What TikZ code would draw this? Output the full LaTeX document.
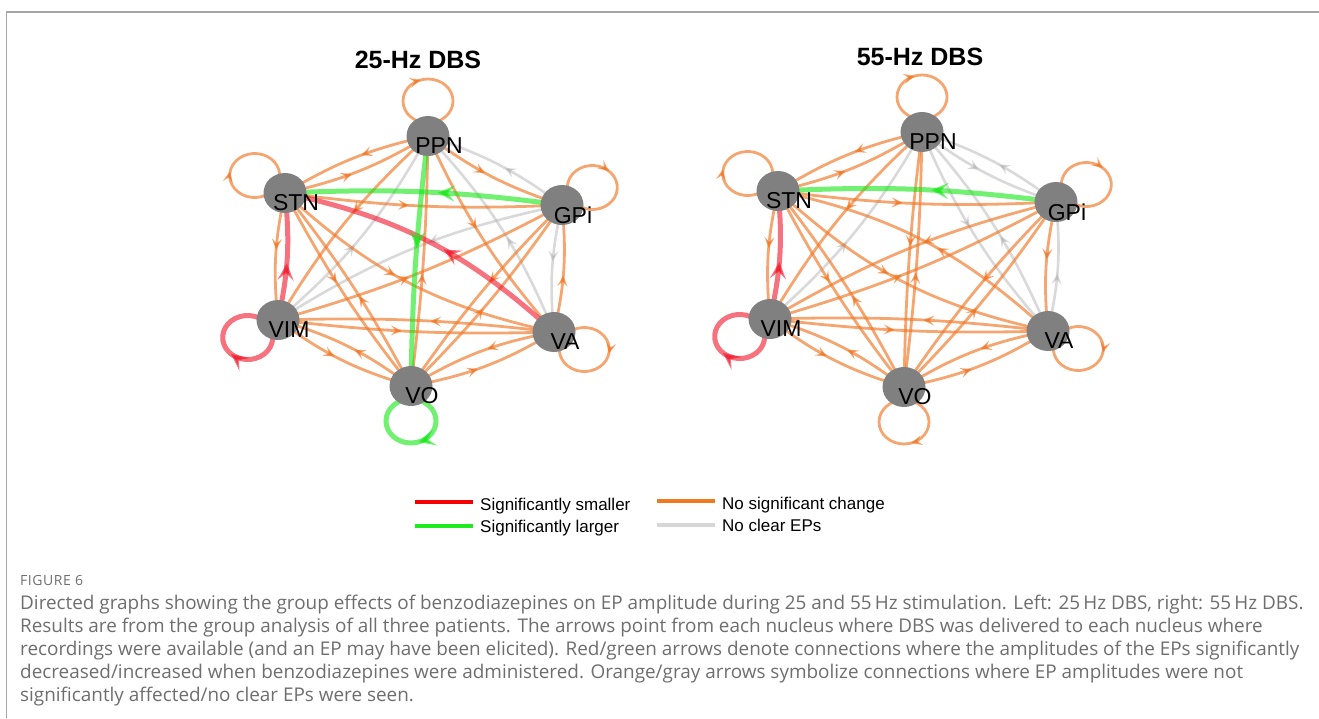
\documentclass[tikz,border=0pt]{standalone}
\usepackage{fontspec}
\setmainfont{Liberation Sans}
\newfontfamily\capfont{Open Sans}
\usetikzlibrary{arrows.meta,decorations.markings,calc,shapes.geometric}
\pgfdeclarelayer{edges}
\pgfsetlayers{edges,main}
\definecolor{eorange}{RGB}{240,118,36}
\definecolor{egray}{RGB}{180,180,180}
\definecolor{ered}{RGB}{240,20,40}
\definecolor{egreen}{RGB}{20,230,20}
\definecolor{nodegray}{RGB}{128,128,128}
\definecolor{captext}{RGB}{110,110,110}
\definecolor{framegray}{RGB}{165,165,165}
\definecolor{legred}{RGB}{245,0,0}
\definecolor{leggreen}{RGB}{30,235,30}
\definecolor{legorange}{RGB}{240,122,32}
\definecolor{leggray}{RGB}{215,215,215}

\tikzset{
  x=1pt, y=-1pt,
  nucleus/.style={ellipse, fill=nodegray, minimum width=43pt, minimum height=40pt, inner sep=0pt},
  nlabel/.style={anchor=base west, xshift=11pt, yshift=-10pt, inner sep=0pt,
                 font=\fontsize{23}{26}\selectfont},
  title/.style={anchor=base, inner sep=0pt, font=\bfseries\fontsize{25}{30}\selectfont},
  midarrow/.style={postaction={decorate},
    decoration={markings, mark=at position 0.45 with {\arrow{#1}}}},
  thinedge/.style={line width=2.8pt, opacity=0.65,
    midarrow={Stealth[length=11pt,width=10pt,inset=4.5pt]}},
  thickedge/.style={line width=5pt, opacity=0.6,
    midarrow={Stealth[length=17pt,width=16pt,inset=7pt]}},
  oe/.style={draw=eorange, thinedge},
  ge/.style={draw=egray, thinedge, line width=2.6pt, opacity=0.5},
  re/.style={draw=ered, thickedge},
  gne/.style={draw=egreen, thickedge},
  legline/.style={line width=4pt},
  legtext/.style={anchor=base west, inner sep=0pt, font=\fontsize{17}{20}\selectfont},
  captline/.style={anchor=base west, inner sep=0pt, text=captext,
                   font=\capfont\fontsize{18.9}{22}\selectfont},
}

% directed edge between two nuclei, bent clockwise
\newcommand\dedge[4]{\draw[#3] (#1.center) to[bend right=#4] (#2.center);}
% self loop: node, outward angle (clockwise from east), style
\newcommand\selfloop[3]{%
  \draw[#3] ($(#1)+(#2:35)+(#2+180:25 and 22)$)
    arc[start angle=#2+180, delta angle=360, x radius=25, y radius=22];}

\begin{document}
\begin{tikzpicture}
\useasboundingbox (0,0) rectangle (1319,718);

% frame
\coordinate (fbl) at (6.5,718);
\coordinate (ftl) at (6.5,12);
\coordinate (ftr) at (1319,12);
\draw[framegray, line width=1.3pt] (fbl) -- (ftl) -- (ftr);

% ---------- 25 Hz graph ----------
\node[title] (tl) at (418,68) {25-Hz DBS};
\node[nucleus, label={[nlabel]center:PPN}] (lPPN) at (428,136) {};
\node[nucleus, label={[nlabel]center:STN}] (lSTN) at (285,193) {};
\node[nucleus, label={[nlabel]center:GPi}] (lGPi) at (562,205) {};
\node[nucleus, label={[nlabel]center:VIM}] (lVIM) at (278,320) {};
\node[nucleus, label={[nlabel]center:VA}]  (lVA)  at (554,332) {};
\node[nucleus, label={[nlabel]center:VO}]  (lVO)  at (411,386) {};

\begin{pgfonlayer}{edges}
% no clear EPs
\dedge{lGPi}{lPPN}{ge}{9}
\dedge{lGPi}{lVA}{ge}{9}
\dedge{lVIM}{lPPN}{ge}{10}
\dedge{lVA}{lPPN}{ge}{10}
\dedge{lGPi}{lVIM}{ge}{10}
% no significant change
\dedge{lSTN}{lPPN}{oe}{9}
\dedge{lPPN}{lSTN}{oe}{9}
\dedge{lPPN}{lGPi}{oe}{9}
\dedge{lVA}{lGPi}{oe}{9}
\dedge{lVA}{lVO}{oe}{10}
\dedge{lVO}{lVA}{oe}{10}
\dedge{lVO}{lVIM}{oe}{10}
\dedge{lVIM}{lVO}{oe}{10}
\dedge{lSTN}{lVIM}{oe}{9}
\dedge{lPPN}{lVIM}{oe}{8}
\dedge{lPPN}{lVA}{oe}{8}
\dedge{lSTN}{lGPi}{oe}{5}
\dedge{lSTN}{lVO}{oe}{5}
\dedge{lVO}{lSTN}{oe}{5}
\dedge{lGPi}{lVO}{oe}{5}
\dedge{lVO}{lGPi}{oe}{5}
\dedge{lVIM}{lVA}{oe}{4}
\dedge{lVA}{lVIM}{oe}{4}
\dedge{lVO}{lPPN}{oe}{3}
\dedge{lSTN}{lVA}{oe}{15}
\dedge{lVIM}{lGPi}{oe}{6}
\selfloop{lPPN}{270}{oe}
\selfloop{lSTN}{210}{oe}
\selfloop{lGPi}{330}{oe}
\selfloop{lVA}{30}{oe}
% significant changes
\dedge{lVIM}{lSTN}{re}{9}
\dedge{lVA}{lSTN}{re}{15}
\dedge{lGPi}{lSTN}{gne}{5}
\dedge{lPPN}{lVO}{gne}{3}
\selfloop{lVO}{90}{gne}
\selfloop{lVIM}{150}{re}
\end{pgfonlayer}

% ---------- 55 Hz graph ----------
\node[title] (tr) at (920,65) {55-Hz DBS};
\node[nucleus, label={[nlabel]center:PPN}] (rPPN) at (922,132) {};
\node[nucleus, label={[nlabel]center:STN}] (rSTN) at (778,191) {};
\node[nucleus, label={[nlabel]center:GPi}] (rGPi) at (1056,202) {};
\node[nucleus, label={[nlabel]center:VIM}] (rVIM) at (770,319) {};
\node[nucleus, label={[nlabel]center:VA}]  (rVA)  at (1048,331) {};
\node[nucleus, label={[nlabel]center:VO}]  (rVO)  at (904,387) {};

\begin{pgfonlayer}{edges}
% no clear EPs
\dedge{rGPi}{rPPN}{ge}{9}
\dedge{rPPN}{rGPi}{ge}{9}
\dedge{rVA}{rGPi}{ge}{9}
\dedge{rVIM}{rPPN}{ge}{9}
\dedge{rVA}{rPPN}{ge}{9}
\dedge{rPPN}{rVA}{ge}{9}
% no significant change
\dedge{rSTN}{rPPN}{oe}{9}
\dedge{rPPN}{rSTN}{oe}{9}
\dedge{rGPi}{rVA}{oe}{9}
\dedge{rVA}{rVO}{oe}{10}
\dedge{rVO}{rVA}{oe}{10}
\dedge{rVO}{rVIM}{oe}{10}
\dedge{rVIM}{rVO}{oe}{10}
\dedge{rSTN}{rVIM}{oe}{9}
\dedge{rPPN}{rVIM}{oe}{8}
\dedge{rSTN}{rGPi}{oe}{5}
\dedge{rSTN}{rVO}{oe}{5}
\dedge{rVO}{rSTN}{oe}{5}
\dedge{rGPi}{rVO}{oe}{5}
\dedge{rVO}{rGPi}{oe}{5}
\dedge{rVIM}{rVA}{oe}{4}
\dedge{rVA}{rVIM}{oe}{4}
\dedge{rVO}{rPPN}{oe}{3}
\dedge{rPPN}{rVO}{oe}{3}
\dedge{rSTN}{rVA}{oe}{15}
\dedge{rVA}{rSTN}{oe}{15}
\dedge{rVIM}{rGPi}{oe}{6}
\dedge{rGPi}{rVIM}{oe}{8}
\selfloop{rPPN}{270}{oe}
\selfloop{rSTN}{210}{oe}
\selfloop{rGPi}{330}{oe}
\selfloop{rVA}{30}{oe}
\selfloop{rVO}{90}{oe}
% significant changes
\dedge{rVIM}{rSTN}{re}{9}
\dedge{rGPi}{rSTN}{gne}{5}
\selfloop{rVIM}{150}{re}
\end{pgfonlayer}

% ---------- legend ----------
\coordinate (lg1a) at (415,502);   \coordinate (lg1b) at (473,502);
\coordinate (lg2a) at (415,525.5); \coordinate (lg2b) at (473,525.5);
\coordinate (lg3a) at (657,501);   \coordinate (lg3b) at (715,501);
\coordinate (lg4a) at (657,524.5); \coordinate (lg4b) at (715,524.5);
\draw[legline, legred]    (lg1a) -- (lg1b);
\draw[legline, leggreen]  (lg2a) -- (lg2b);
\draw[legline, legorange] (lg3a) -- (lg3b);
\draw[legline, leggray]   (lg4a) -- (lg4b);
\node[legtext] (lt1) at (480,510) {Significantly smaller};
\node[legtext] (lt2) at (480,532) {Significantly larger};
\node[legtext] (lt3) at (722,509) {No significant change};
\node[legtext] (lt4) at (722,531) {No clear EPs};

% ---------- caption ----------
\node[anchor=base west, inner sep=0pt, text=captext,
      font=\capfont\fontsize{14}{16}\selectfont\addfontfeature{LetterSpace=4}] (fig) at (20,585) {FIGURE 6};
\node[captline] (c1) at (20,609) {Directed graphs showing the group effects of benzodiazepines on EP amplitude during 25 and 55\,Hz stimulation. Left: 25\,Hz DBS, right: 55\,Hz DBS.};
\node[captline] (c2) at (20,632) {Results are from the group analysis of all three patients. The arrows point from each nucleus where DBS was delivered to each nucleus where};
\node[captline] (c3) at (20,655) {recordings were available (and an EP may have been elicited). Red/green arrows denote connections where the amplitudes of the EPs significantly};
\node[captline] (c4) at (20,678) {decreased/increased when benzodiazepines were administered. Orange/gray arrows symbolize connections where EP amplitudes were not};
\node[captline] (c5) at (20,701) {significantly affected/no clear EPs were seen.};
\end{tikzpicture}
\end{document}
